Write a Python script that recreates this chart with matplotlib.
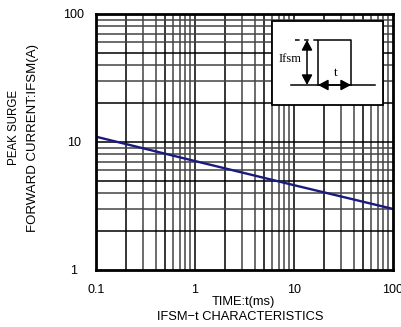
import matplotlib
matplotlib.use("Agg")
import matplotlib.pyplot as plt
import numpy as np
from matplotlib.patches import Rectangle, FancyArrowPatch

plt.rcParams['font.family'] = ['Liberation Sans', 'DejaVu Sans']

# data
time_ms = [0.1, 1, 10, 100]
ifsm_a = [11.0, 7.1, 4.6, 3.0]
x_ticks = [0.1, 1, 10, 100]
x_tick_labels = ["0.1", "1", "10", "100"]
y_ticks = [1, 10, 100]
y_tick_labels = ["1", "10", "100"]

W, H = 401, 327
fig = plt.figure(figsize=(W / 100, H / 100), dpi=100)
ax = fig.add_axes([96 / W, 1 - 270 / H, (393 - 96) / W, (270 - 14) / H])
ax.set_xscale('log')
ax.set_yscale('log')
ax.set_xlim(0.1, 100)
ax.set_ylim(1, 100)

# grid
for dec in [0.1, 1, 10]:
    for m in range(1, 10):
        v = dec * m
        if 0.1 < v < 100:
            ax.axvline(v, color='black' if m in (1, 2, 5) else '#444444', lw=1.1, zorder=1)
for dec in [1, 10]:
    for m in range(1, 10):
        v = dec * m
        if 1 < v < 100:
            ax.axhline(v, color='black' if m in (1, 2, 5) else '#444444', lw=1.1, zorder=1)

ax.plot(time_ms, ifsm_a, color='#1a1a80', lw=1.7, zorder=3)

FS = 8.3
TFS = 9
ax.set_xticks(x_ticks)
ax.set_xticklabels(x_tick_labels)
ax.set_yticks(y_ticks)
ax.set_yticklabels(y_tick_labels)
ax.minorticks_off()
ax.tick_params(length=0, labelsize=TFS)
ax.tick_params(axis='x', pad=10)
ax.tick_params(axis='y', pad=16)
for lab in ax.get_yticklabels():
    lab.set_horizontalalignment('center')
for s in ax.spines.values():
    s.set_linewidth(2.0)
    s.set_zorder(5)

# labels
fig.text(243 / W, 1 - 302 / H, "TIME:t(ms)", ha='center', va='center', fontsize=9.3)
fig.text(240 / W, 1 - 317 / H, "IFSM\u2212t CHARACTERISTICS", ha='center', va='center', fontsize=9.3)
fig.text(14 / W, 1 - 127 / H, "PEAK SURGE", rotation=90, ha='center', va='center', fontsize=FS)
fig.text(33 / W, 1 - 138 / H, "FORWARD CURRENT:IFSM(A)", rotation=90, ha='center', va='center', fontsize=9.5)

# inset diagram in figure pixel coordinates
def fx(px):
    return px / W
def fy(py):
    return 1 - py / H

box = Rectangle((fx(272), fy(105)), (383 - 272) / W, (105 - 21) / H, transform=fig.transFigure,
                facecolor='white', edgecolor='black', lw=1.3, zorder=10)
fig.add_artist(box)
lw = 1.1
fig.add_artist(plt.Line2D([fx(291), fx(375)], [fy(85), fy(85)], transform=fig.transFigure, color='black', lw=lw, zorder=11))
fig.add_artist(plt.Line2D([fx(318), fx(318), fx(351), fx(351)], [fy(85), fy(40), fy(40), fy(85)],
                          transform=fig.transFigure, color='black', lw=lw, zorder=11))
fig.add_artist(plt.Line2D([fx(295), fx(318)], [fy(40), fy(40)], transform=fig.transFigure, color='black',
                          lw=lw, ls=(0, (3, 3)), zorder=11))
fig.add_artist(FancyArrowPatch((fx(307), fy(40)), (fx(307), fy(85)), transform=fig.transFigure,
                               arrowstyle='<|-|>,head_length=0.75,head_width=0.4', mutation_scale=8,
                               color='black', lw=lw, zorder=11, shrinkA=0, shrinkB=0))
fig.add_artist(FancyArrowPatch((fx(318), fy(85)), (fx(351), fy(85)), transform=fig.transFigure,
                               arrowstyle='<|-|>,head_length=0.75,head_width=0.4', mutation_scale=8,
                               color='black', lw=lw, zorder=11, shrinkA=0, shrinkB=0))
fig.text(fx(290), fy(59), "Ifsm", ha='center', va='center', fontsize=9, family='Liberation Serif', zorder=12)
fig.text(fx(336), fy(73), "t", ha='center', va='center', fontsize=9.5, family='Liberation Serif', zorder=12)

fig.savefig("out.png", dpi=100)
